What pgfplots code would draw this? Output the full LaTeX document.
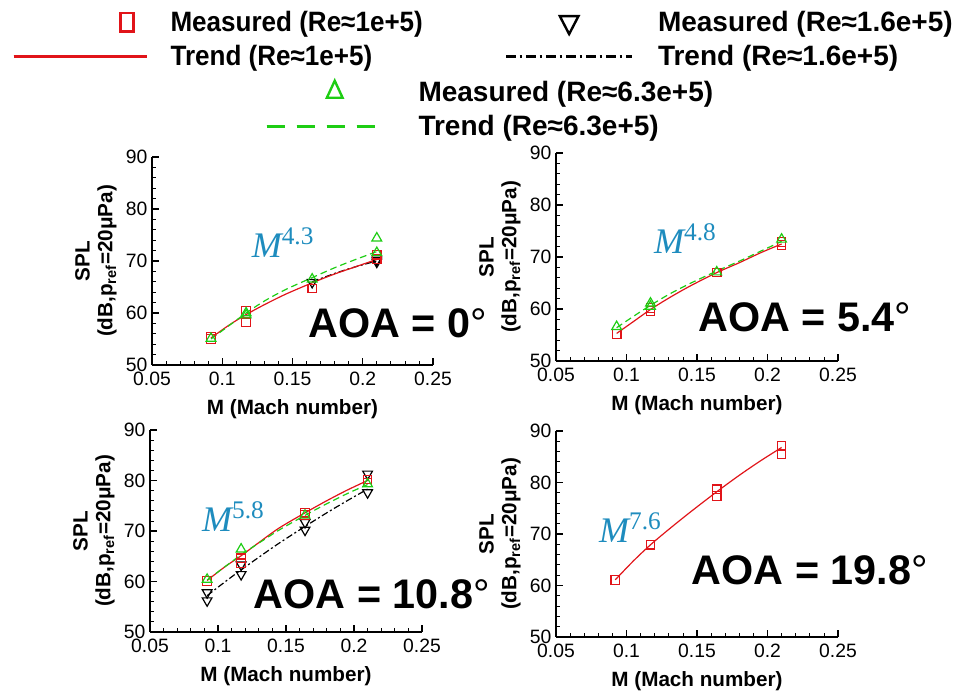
\documentclass[border=0pt]{standalone}
\usepackage{fontspec}
\setmainfont{Liberation Sans}
\newfontfamily\narrowfont[FakeStretch=0.93]{Liberation Sans}
\newfontfamily\serifup{Liberation Serif}
\usepackage{pgfplots}
\pgfplotsset{compat=1.18}
\definecolor{myred}{RGB}{225,20,25}
\definecolor{mygreen}{RGB}{30,205,20}
\definecolor{mteal}{RGB}{30,140,190}
\newcommand{\mexp}[1]{{\fontsize{27}{28}\selectfont\serifup\itshape M}\raisebox{10pt}{\fontsize{19}{20}\selectfont\serifup #1}}
\newcommand{\aoa}[1]{{\bfseries\fontsize{31}{33}\selectfont AOA = #1{\mdseries °}}}
\pgfplotsset{
  panel/.style={
    scale only axis, anchor=south west, clip=false,
    axis lines*=left,
    axis line style={line width=1.1pt},
    tick align=inside,
    major tick length=5pt, minor tick length=3pt,
    major tick style={line width=0.8pt, black},
    minor tick style={line width=0.6pt, black},
    xmin=0.05, xmax=0.25, ymin=50, ymax=90,
    xtick={0.05,0.1,0.15,0.2,0.25},
    xticklabels={0.05,0.1,0.15,0.2,0.25},
    ytick={50,60,70,80,90},
    minor x tick num=4, minor y tick num=4,
    /pgf/number format/assume math mode=true,
    ticklabel style={font=\fontsize{14.5}{14.5}\selectfont},
    xticklabel style={yshift=-2pt},
    xlabel={M (Mach number)},
    ylabel={SPL\\(dB,p\textsubscript{ref}=20μPa)},
    label style={font=\bfseries\fontsize{15.5}{17}\selectfont},
    xlabel style={yshift=-3pt},
    ylabel style={align=center},
  },
  redm/.style={only marks, mark=square, mark size=3.2pt, color=myred, mark options={line width=0.9pt}},
  greenm/.style={only marks, mark=triangle, mark size=4.2pt, color=mygreen, mark options={line width=0.9pt}},
  blackm/.style={only marks, mark=triangle, mark size=4.2pt, color=black, mark options={rotate=180, line width=0.9pt}},
  redl/.style={no marks, smooth, color=myred, line width=0.9pt},
  greenl/.style={no marks, smooth, color=mygreen, line width=0.9pt, dash pattern=on 5pt off 3pt},
  blackl/.style={no marks, smooth, color=black, line width=0.9pt, dash pattern=on 5pt off 2pt on 1.5pt off 2pt},
  legax/.style={hide axis, scale only axis, width=1pt, height=1pt,
    xmin=0, xmax=1, ymin=0, ymax=1, anchor=north west,
    legend cell align=left,
    legend style={at={(0,1)}, anchor=north west, draw=none, fill=none, inner sep=0pt,
      font=\bfseries\fontsize{21}{22}\selectfont,
      nodes={inner sep=1pt}, row sep=7pt}},
}
\begin{document}
\begin{tikzpicture}
\useasboundingbox (0pt,0pt) rectangle (723pt,522pt);

% ---------- legends ----------
\begin{axis}[legax, at={(9pt,515pt)},
  legend style={column sep=15.5pt, font=\narrowfont\bfseries\fontsize{21}{22}\selectfont},
  legend image code/.code={\path (0pt,0pt) -- (100pt,0pt);
    \draw[mark repeat=2,mark phase=2,#1] plot coordinates {(0pt,0pt) (85pt,0pt) (100pt,0pt)};}]
\addlegendimage{only marks, draw=none, mark=square, mark size=7pt, mark options={draw=myred, xscale=0.7, line width=1.8pt}}
\addlegendentry{Measured (Re≈1e+5)}
\addlegendimage{color=myred, line width=2.2pt}
\addlegendentry{Trend (Re≈1e+5)}
\end{axis}

\begin{axis}[legax, at={(378.75pt,515pt)},
  legend style={column sep=17.75pt},
  legend image code/.code={\path (0pt,0pt) -- (94pt,0pt);
    \draw[mark repeat=2,mark phase=2,#1] plot coordinates {(0pt,0pt) (47pt,0pt) (94pt,0pt)};}]
\addlegendimage{only marks, draw=none, mark=triangle, mark size=9pt, mark options={draw=black, rotate=180, xscale=0.9, line width=1.8pt}}
\addlegendentry{Measured (Re≈1.6e+5)}
\addlegendimage{color=black, line width=1.8pt, dash pattern=on 7pt off 3pt on 2pt off 3pt}
\addlegendentry{Trend (Re≈1.6e+5)}
\end{axis}

\begin{axis}[legax, at={(198.75pt,462.5pt)},
  legend style={column sep=26.75pt},
  legend image code/.code={\path (0pt,0pt) -- (85pt,0pt);
    \draw[mark repeat=2,mark phase=2,#1] plot coordinates {(0pt,0pt) (51pt,0pt) (85pt,0pt)};}]
\addlegendimage{only marks, draw=none, mark=triangle, mark size=8.5pt, mark options={draw=mygreen, xscale=0.8, line width=1.8pt}}
\addlegendentry{Measured (Re≈6.3e+5)}
\addlegendimage{color=mygreen, line width=2.2pt, dash pattern=on 13.5pt off 9pt}
\addlegendentry{Trend (Re≈6.3e+5)}
\end{axis}

% ---------- AOA = 0 ----------
\begin{axis}[panel, at={(114pt,248.25pt)}, width=210.75pt, height=156pt]
\addplot[blackl] coordinates {(0.164,66.0)(0.18,67.6)(0.195,68.9)(0.21,70.0)};
\addplot[blackm] coordinates {(0.164,65.9)(0.21,69.8)(0.21,70.2)};
\addplot[redl] coordinates {(0.092,55.2)(0.105,57.7)(0.117,59.7)(0.13,61.6)(0.145,63.6)(0.164,65.8)(0.18,67.5)(0.195,68.9)(0.21,70.3)};
\addplot[greenl] coordinates {(0.092,55.0)(0.105,57.6)(0.117,60.0)(0.13,62.3)(0.145,64.5)(0.164,66.8)(0.18,68.7)(0.195,70.3)(0.21,71.8)};
\addplot[redm] coordinates {(0.092,55.4)(0.092,55.0)(0.117,60.4)(0.117,58.2)(0.164,64.7)(0.21,71.2)(0.21,70.4)};
\addplot[greenm] coordinates {(0.092,55.1)(0.117,60.0)(0.117,59.6)(0.164,66.5)(0.21,74.4)(0.21,71.6)};
\node[text=mteal] at (axis cs:0.143,73.5) {\mexp{4.3}};
\node at (axis cs:0.225,58.1) {\aoa{0}};
\end{axis}

% ---------- AOA = 5.4 ----------
\begin{axis}[panel, at={(417pt,251.25pt)}, width=211.5pt, height=156pt]
\addplot[redl] coordinates {(0.093,55.3)(0.105,57.6)(0.117,59.9)(0.13,62.1)(0.145,64.4)(0.164,67.0)(0.18,68.9)(0.195,70.8)(0.21,72.5)};
\addplot[greenl] coordinates {(0.093,56.4)(0.105,58.6)(0.117,60.7)(0.13,62.8)(0.145,64.9)(0.164,67.3)(0.18,69.2)(0.195,71.1)(0.21,73.0)};
\addplot[redm] coordinates {(0.093,55.2)(0.117,59.6)(0.117,60.2)(0.164,67.0)(0.21,72.3)(0.21,72.9)};
\addplot[greenm] coordinates {(0.093,56.6)(0.117,61.1)(0.117,60.5)(0.164,67.1)(0.21,73.4)};
\node[text=mteal] at (axis cs:0.1415,73.5) {\mexp{4.8}};
\node at (axis cs:0.2266,58.5) {\aoa{5.4}};
\end{axis}

% ---------- AOA = 10.8 ----------
\begin{axis}[panel, at={(112.5pt,48pt)}, width=204pt, height=151.5pt]
\addplot[blackl] coordinates {(0.092,57.2)(0.105,59.9)(0.117,62.3)(0.13,64.8)(0.145,67.6)(0.164,70.9)(0.18,73.6)(0.195,76.0)(0.21,78.3)};
\addplot[blackm] coordinates {(0.092,57.8)(0.092,56.2)(0.117,63.3)(0.117,61.4)(0.164,71.7)(0.164,70.2)(0.21,81.3)(0.21,77.6)};
\addplot[redl] coordinates {(0.092,60.2)(0.105,62.9)(0.117,65.1)(0.13,67.7)(0.145,70.6)(0.164,73.6)(0.18,76.0)(0.195,78.1)(0.21,80.0)};
\addplot[greenl] coordinates {(0.092,60.3)(0.105,62.9)(0.117,65.3)(0.13,67.6)(0.145,70.2)(0.164,73.1)(0.18,75.4)(0.195,77.4)(0.21,79.2)};
\addplot[redm] coordinates {(0.092,60.1)(0.117,64.6)(0.117,63.6)(0.164,73.6)(0.164,73.2)(0.21,80.2)(0.21,79.6)};
\addplot[greenm] coordinates {(0.092,60.4)(0.117,66.4)(0.164,73.1)(0.21,79.3)};
\node[text=mteal] at (axis cs:0.111,72.9) {\mexp{5.8}};
\node at (axis cs:0.213,57.4) {\aoa{10.8}};
\end{axis}

% ---------- AOA = 19.8 ----------
\begin{axis}[panel, at={(417pt,44.25pt)}, width=211.5pt, height=154.5pt]
\addplot[redl] coordinates {(0.092,61.1)(0.105,64.8)(0.117,67.9)(0.13,70.9)(0.145,74.2)(0.164,78.2)(0.18,81.4)(0.195,84.2)(0.21,86.8)};
\addplot[redm] coordinates {(0.092,61.1)(0.117,67.9)(0.164,78.7)(0.164,77.4)(0.21,87.1)(0.21,85.5)};
\node[text=mteal] at (axis cs:0.1025,71.2) {\mexp{7.6}};
\node at (axis cs:0.230,63.0) {\aoa{19.8}};
\end{axis}
\end{tikzpicture}
\end{document}
